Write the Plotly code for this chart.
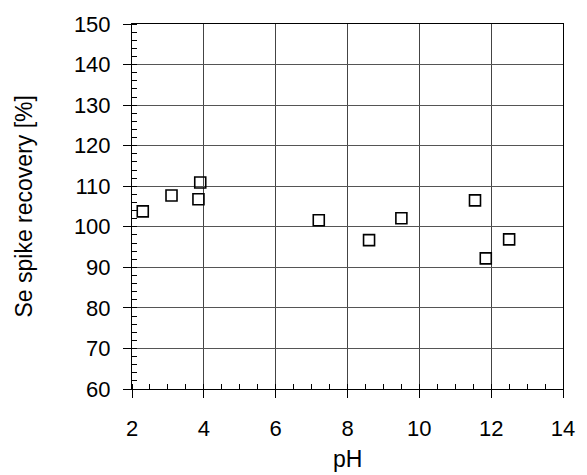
import plotly.graph_objects as go

# Data
ph = [2.3, 3.1, 3.85, 3.9, 7.2, 8.6, 9.5, 11.55, 11.85, 12.5]
recovery = [103.8, 107.7, 106.8, 110.9, 101.6, 96.7, 102.1, 106.5, 92.2, 96.9]

x_ticks = [2, 4, 6, 8, 10, 12, 14]
y_ticks = [60, 70, 80, 90, 100, 110, 120, 130, 140, 150]

FONT = "Liberation Sans, Arial, sans-serif"

fig = go.Figure()
fig.add_trace(go.Scatter(
    x=ph, y=recovery, mode="markers",
    marker=dict(symbol="square-open", size=11, color="black",
                line=dict(width=1.6, color="black")),
    showlegend=False, cliponaxis=False,
))

fig.update_layout(
    width=587, height=475, autosize=False,
    margin=dict(l=132, r=16.5, t=20.7, b=85.7),
    paper_bgcolor="white", plot_bgcolor="white",
    font=dict(family=FONT, size=22, color="black"),
    xaxis=dict(
        range=[2, 14], tickvals=x_ticks, ticktext=[str(v) for v in x_ticks],
        showgrid=True, gridcolor="#444444", gridwidth=1,
        showline=True, linecolor="black", linewidth=1, mirror=True,
        ticks="outside", ticklen=8, tickcolor="black", tickwidth=1,
        ticklabelstandoff=12,
        minor=dict(dtick=0.5, ticks="inside", ticklen=5, tickcolor="black",
                   tickwidth=1, showgrid=False),
        zeroline=False,
        tickfont=dict(family=FONT, size=22, color="black"),
    ),
    yaxis=dict(
        range=[60, 150], tickvals=y_ticks, ticktext=[str(v) for v in y_ticks],
        showgrid=True, gridcolor="#555555", gridwidth=1,
        showline=True, linecolor="black", linewidth=1, mirror=True,
        ticks="outside", ticklen=8, tickcolor="black", tickwidth=1,
        ticklabelstandoff=8,
        minor=dict(dtick=2, ticks="inside", ticklen=5, tickcolor="black",
                   tickwidth=1, showgrid=False),
        zeroline=False,
        tickfont=dict(family=FONT, size=22, color="black"),
    ),
    annotations=[
        dict(text="pH", xref="paper", yref="paper", x=0.5, y=0,
             xanchor="center", yanchor="middle", yshift=-70, showarrow=False,
             font=dict(family=FONT, size=23, color="black")),
        dict(text="Se spike recovery [%]", xref="paper", yref="paper",
             x=0, y=0.5, xanchor="center", yanchor="middle", textangle=-90,
             xshift=-109, showarrow=False,
             font=dict(family=FONT, size=23, color="black")),
    ],
)

fig.write_html(
    "out.html",
    config={"displayModeBar": False},
    post_script="document.body.style.margin='0';document.body.style.overflow='hidden';",
)
